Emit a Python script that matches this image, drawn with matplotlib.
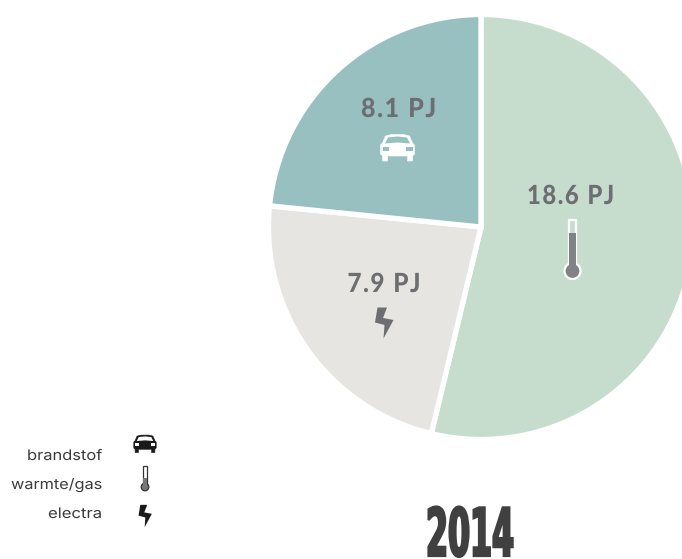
import matplotlib
matplotlib.use("Agg")
import matplotlib.pyplot as plt
import matplotlib.patheffects as pe
from matplotlib.transforms import Affine2D
from matplotlib.patches import Polygon, Circle, Rectangle

W, H = 682, 559
categories = ["warmte/gas", "electra", "brandstof"]
values = [18.6, 7.9, 8.1]
value_labels = ["18.6 PJ", "7.9 PJ", "8.1 PJ"]
colors = ["#C6DDCE", "#E6E5E1", "#98C0C1"]
year = "2014"
legend_order = ["brandstof", "warmte/gas", "electra"]

TXT = "#6D6E71"
DARK = "#3A3A3A"

fig = plt.figure(figsize=(W / 100, H / 100), dpi=100)
ax = fig.add_axes([0, 0, 1, 1])
ax.pie(values, colors=colors, startangle=90, counterclock=False,
       center=(481, H - 227), radius=212.5,
       wedgeprops=dict(edgecolor="white", linewidth=3.8))
ax.set_xlim(0, W)
ax.set_ylim(0, H)
ax.set_aspect("equal")
ax.axis("off")


def Y(y):
    return H - y


class Stretch(pe.AbstractPathEffect):
    """Scale the glyphs of a text horizontally around x = cx; optional outline to embolden."""
    def __init__(self, sx, cx, stroke=0, color=None):
        super().__init__()
        self.sx, self.cx, self.stroke, self.color = sx, cx, stroke, color

    def draw_path(self, renderer, gc, tpath, affine, rgbFace=None):
        a = affine + Affine2D().translate(-self.cx, 0).scale(self.sx, 1).translate(self.cx, 0)
        g = renderer.new_gc()
        g.copy_properties(gc)
        if self.stroke:
            g.set_linewidth(self.stroke)
            g.set_foreground(self.color)
            g.set_joinstyle("miter")
        renderer.draw_path(g, tpath, a, rgbFace)
        g.restore()


def fit(t, target, stroke=0):
    fig.canvas.draw()
    bb = t.get_window_extent()
    ha = t.get_ha()
    cx = {"center": (bb.x0 + bb.x1) / 2, "right": bb.x1, "left": bb.x0}[ha]
    t.set_path_effects([Stretch(target / bb.width, cx, stroke, t.get_color())])


def spaced(s):
    return "\u200a".join(s)


def car(cx, cy, s, body, cut):
    pts = [(-12, -12), (-6, -13.5), (6, -13.5), (12, -12), (15, -5), (17, -3), (17, 6), (15, 8),
           (15, 13), (10, 13), (10, 8), (-10, 8), (-10, 13), (-15, 13), (-15, 8), (-17, 6),
           (-17, -3), (-15, -5)]
    win = [(-12.5, -4.5), (-9.5, -10.5), (0, -11.5), (9.5, -10.5), (12.5, -4.5), (0, -5.5)]
    lamps = [[(-15, -1), (-8.5, -1), (-8.5, 3), (-15, 3)], [(15, -1), (8.5, -1), (8.5, 3), (15, 3)]]
    f = lambda P: [(cx + s * x, Y(cy + s * y)) for x, y in P]
    ax.add_patch(Polygon(f(pts), closed=True, fc=body, ec=body, lw=0.4, joinstyle="round"))
    for p in [win] + lamps:
        ax.add_patch(Polygon(f(p), closed=True, fc=cut, ec="none"))


def bolt(cx, cy, s, col):
    pts = [(-6.5, -15.5), (3, -15.5), (-1, -5), (9.5, -3), (-0.5, 15.5), (0.5, 2), (-9, -0.5)]
    ax.add_patch(Polygon([(cx + s * x, Y(cy + s * y)) for x, y in pts], closed=True, fc=col, ec="none"))


def thermo(cx, top, bulb_y, half, r, outline, fill, level, lw):
    ax.add_patch(Rectangle((cx - half, Y(bulb_y)), 2 * half, bulb_y - top, fc="none", ec=outline, lw=lw))
    ax.add_patch(Circle((cx, Y(bulb_y)), r, fc=fill, ec=outline, lw=lw, zorder=3))
    ax.add_patch(Rectangle((cx - half, Y(bulb_y)), 2 * half, bulb_y - level, fc=fill, ec="none", zorder=4))


# value labels
for lab, (x, y), w in zip(value_labels, [(570.5, 196), (384, 284), (398.5, 109)], [87, 73, 75]):
    t = ax.text(x, Y(y), spaced(lab), ha="center", va="center", fontsize=19, fontweight="black",
                family="Lato", color=TXT)
    fit(t, w)

# icons on slices
thermo(572.5, 220, 271, 3.7, 8, "white", "#808285", 233, 1.6)
car(397.5, 148, 1.0, "white", "#98C0C1")
bolt(384, 323, 1.0, TXT)

# legend
for lab, y, w in zip(legend_order, [456, 485, 514], [75, 91, 54]):
    t = ax.text(102, Y(y), lab, ha="right", va="center", fontsize=10.5, family="Inter", color=DARK)
    fit(t, w)
car(145, 444, 0.66, "#1A1A1A", "white")
thermo(145, 466, 487, 1.8, 3.8, "#333333", "#777777", 478, 0.9)
bolt(145, 516, 0.72, "#1A1A1A")

# year
t = ax.text(470, Y(556), year, ha="center", va="baseline", fontsize=48, fontweight="bold",
            family="Liberation Sans Narrow", color="#404040")
fit(t, 88, stroke=1.6)

fig.savefig("out.png", dpi=100)
